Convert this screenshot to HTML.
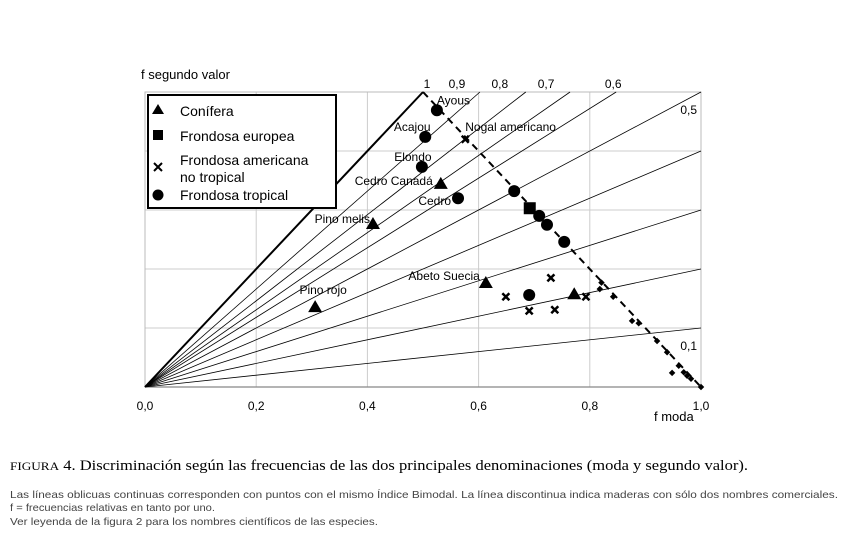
<!DOCTYPE html>
<html><head><meta charset="utf-8"><style>
body{margin:0;background:#fff;}
svg{display:block;font-family:"Liberation Sans",Arial,sans-serif;}
</style></head><body>
<svg id="chart" width="845" height="540" viewBox="0 0 845 540" xmlns="http://www.w3.org/2000/svg">
<g id="grid"></g>
<g id="fan"></g>
<g id="marks"></g>
<g id="labels"></g>
<text x="141" y="79" font-size="13">f segundo valor</text>
<text x="654" y="421" font-size="13">f moda</text>
<g>
<rect x="148" y="95" width="188" height="113" fill="#fff" stroke="#000" stroke-width="2"/>
<g><polygon points="152,114 158,104 164,114" fill="#000"/><text x="180" y="116" font-size="14">Conífera</text></g>
<g><rect x="153" y="130" width="10" height="10" fill="#000"/><text x="180" y="141" font-size="14">Frondosa europea</text></g>
<g><path d="M154,163 L162,171 M162,163 L154,171" stroke="#000" stroke-width="2"/><text x="180" y="165" font-size="14">Frondosa americana</text><text x="180" y="182" font-size="14">no tropical</text></g>
<g><circle cx="158" cy="195" r="5.5" fill="#000"/><text x="180" y="200" font-size="14">Frondosa tropical</text></g>
</g>
<text x="10" y="470" font-family="'Liberation Serif',serif" font-size="15" textLength="738" lengthAdjust="spacingAndGlyphs"><tspan font-size="12">FIGURA</tspan> 4.  Discriminación según las frecuencias de las dos principales denominaciones (moda y segundo valor).</text>
<g fill="#444" font-size="10.5">
<text x="10" y="498" textLength="828" lengthAdjust="spacingAndGlyphs">Las líneas oblicuas continuas corresponden con puntos con el mismo Índice Bimodal.  La línea discontinua indica maderas con sólo dos nombres comerciales.</text>
<text x="10" y="511" textLength="205" lengthAdjust="spacingAndGlyphs">f = frecuencias relativas en tanto por uno.</text>
<text x="10" y="525" textLength="368" lengthAdjust="spacingAndGlyphs">Ver leyenda de la figura 2 para los nombres científicos de las especies.</text>
</g>
</svg>
<script>
const xTicks=[0,0.2,0.4,0.6,0.8,1.0];
const xTickLabels=["0,0","0,2","0,4","0,6","0,8","1,0"];
const yGrid=[0.1,0.2,0.3,0.4,0.5];
const fanSlopes=[1,0.83,0.73,0.654,0.59,0.5,0.4,0.3,0.2,0.1];
const fanLabels=["1","0,9","0,8","0,7","0,6","0,5","","","","0,1"];
const triX=[0.532,0.410,0.613,0.772,0.306];
const triY=[0.346,0.278,0.178,0.159,0.137];
const sqX=[0.692];
const sqY=[0.303];
const crossX=[0.576,0.730,0.649,0.793,0.691,0.737];
const crossY=[0.420,0.185,0.153,0.153,0.129,0.131];
const circX=[0.525,0.504,0.498,0.563,0.664,0.709,0.723,0.754,0.691];
const circY=[0.469,0.424,0.373,0.320,0.332,0.290,0.275,0.246,0.156];
const dotX=[0.821,0.818,0.842,0.876,0.888,0.921,0.939,0.948,0.960,0.969,0.975,0.982,1.0];
const dotY=[0.177,0.166,0.153,0.112,0.108,0.078,0.059,0.024,0.036,0.025,0.019,0.014,0];
const pointNames=["Ayous","Acajou","Elondo","Cedro Canadá","Cedro","Pino melis","Nogal americano","Abeto Suecia","Pino rojo"];
const pointNameX=[0.525,0.504,0.498,0.532,0.563,0.410,0.576,0.613,0.306];
const pointNameY=[0.469,0.424,0.373,0.346,0.320,0.278,0.420,0.178,0.137];

const X0=145,X1=701,Y0=387,Ytop=92,YMAX=0.5;
const sx=v=>X0+v*(X1-X0);
const sy=v=>Y0-v/YMAX*(Y0-Ytop);
const NS="http://www.w3.org/2000/svg";
function mk(tag,attrs,parent){const e=document.createElementNS(NS,tag);for(const k in attrs)e.setAttribute(k,attrs[k]);parent.appendChild(e);return e;}
const grid=document.getElementById('grid'),fan=document.getElementById('fan'),marks=document.getElementById('marks'),labels=document.getElementById('labels');

xTicks.forEach((t,i)=>{
  if(t>0&&t<1){const l=mk('line',{x1:sx(t),x2:sx(t),y1:sy(0),y2:sy(YMAX),stroke:'#ccc','stroke-width':1},grid);
  
  }
  const tx=mk('text',{x:sx(t),y:sy(0)+23,'font-size':12,'text-anchor':'middle'},grid);
  tx.textContent=xTickLabels[i];
  
  
});
yGrid.forEach(t=>{
  const l=mk('line',{x1:sx(0),x2:sx(1),y1:sy(t),y2:sy(t),stroke:'#ccc','stroke-width':1},grid);
  
  
});
const frame=mk('rect',{x:sx(0),y:sy(YMAX),width:sx(1)-sx(0),height:sy(0)-sy(YMAX),fill:'none',stroke:'#bbb','stroke-width':1},grid);


const xa=mk('line',{x1:sx(0),x2:sx(1),y1:sy(0),y2:sy(0),stroke:'#888','stroke-width':1.2},grid);



const topLabelShift=[4,-23,-26,-24,-3];
fanSlopes.forEach((s,i)=>{
  let ex=1,ey=s;
  if(s>YMAX){ex=YMAX/s;ey=YMAX;}
  const l=mk('line',{x1:sx(0),y1:sy(0),x2:sx(ex),y2:sy(ey),stroke:'#000','stroke-width':i===0?2:0.8},fan);
  
  
  if(fanLabels[i]){
    let lx,ly,anchor='end';
    if(s>YMAX){lx=sx(ex)+topLabelShift[i];ly=sy(YMAX)-4;anchor='middle';}
    else {lx=sx(1)-4;ly=sy(s)+22;}
    const t=mk('text',{x:lx,y:ly,'font-size':12,'text-anchor':anchor},fan);
    t.textContent=fanLabels[i];
    
    
  }
});
const dl=mk('line',{x1:sx(0.5),y1:sy(0.5),x2:sx(1),y2:sy(0),stroke:'#000','stroke-width':2,'stroke-dasharray':'7,5'},fan);



dotX.forEach((v,i)=>{
  const c=mk('rect',{x:sx(v)-2.3,y:sy(dotY[i])-2.3,width:4.6,height:4.6,fill:'#000',transform:`rotate(45 ${sx(v)} ${sy(dotY[i])})`},marks);
  
  
});
triX.forEach((v,i)=>{
  const x=sx(v),y=sy(triY[i]);
  const p=mk('polygon',{points:`${x-7},${y+6} ${x},${y-6} ${x+7},${y+6}`,fill:'#000'},marks);
  
  
});
sqX.forEach((v,i)=>{
  const r=mk('rect',{x:sx(v)-6,y:sy(sqY[i])-6,width:12,height:12,fill:'#000'},marks);
  
  
});
crossX.forEach((v,i)=>{
  const x=sx(v),y=sy(crossY[i]);
  const p=mk('path',{d:`M${x-3.5},${y-3.5}L${x+3.5},${y+3.5}M${x+3.5},${y-3.5}L${x-3.5},${y+3.5}`,stroke:'#000','stroke-width':2.5},marks);
  
  
});
circX.forEach((v,i)=>{
  const c=mk('circle',{cx:sx(v),cy:sy(circY[i]),r:6,fill:'#000'},marks);
  
  
});
// [unused, dy, anchor, dx]
const offs=[[0,-6,'start',0],[0,-6,'middle',-13],[0,-6,'middle',-9],[0,2,'end',-8],[0,7,'end',-7],[0,0,'end',-3],[0,-8,'start',0],[0,-2,'end',-6],[0,-12,'middle',8]];
pointNames.forEach((n,i)=>{
  const o=offs[i];
  const t=mk('text',{x:sx(pointNameX[i])+o[3],y:sy(pointNameY[i])+o[1],'font-size':12,'text-anchor':o[2]},labels);
  t.textContent=n;
  
  
});
</script>
</body></html>
